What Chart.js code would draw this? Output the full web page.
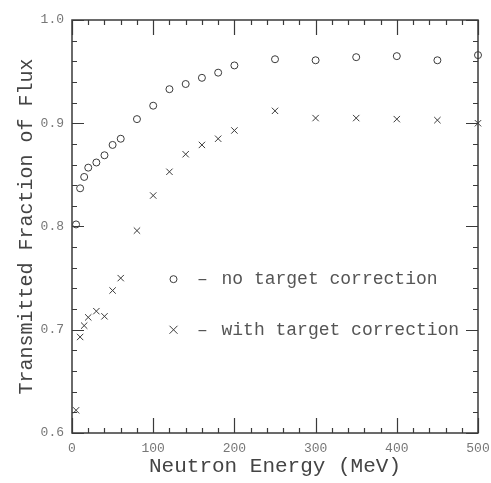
<!DOCTYPE html>
<html lang="en">
<head>
<meta charset="UTF-8">
<title>transmitted_flux</title>
<script src="https://cdn.jsdelivr.net/npm/chart.js"></script>
<style>
  html, body { margin: 0; padding: 0; background: #fff; }
</style>
</head>
<body>
<canvas id="fluxChart" width="491" height="483"></canvas>
<script>
// neutron energy (MeV)
const energies = [5, 10, 15, 20, 30, 40, 50, 60, 80, 100, 120, 140, 160, 180, 200, 250, 300, 350, 400, 450, 500];
// transmitted fraction, no target correction (circles)
const noCorrection = [0.802, 0.837, 0.848, 0.857, 0.862, 0.869, 0.879, 0.885, 0.904, 0.917, 0.933, 0.938, 0.944, 0.949, 0.956, 0.962, 0.961, 0.964, 0.965, 0.961, 0.966];
// transmitted fraction, with target correction (crosses)
const withCorrection = [0.622, 0.693, 0.704, 0.712, 0.718, 0.713, 0.738, 0.750, 0.796, 0.830, 0.853, 0.870, 0.879, 0.885, 0.893, 0.912, 0.905, 0.905, 0.904, 0.903, 0.900];
const xTicks = [0, 100, 200, 300, 400, 500];
const yTicks = [0.6, 0.7, 0.8, 0.9, 1.0];
const legendLabels = ['no target correction', 'with target correction'];

const FONT = "'Liberation Mono', 'DejaVu Sans Mono', monospace";
const INK = '#3a3a3a';

// box frame with inward ticks on all four sides
const frameTicks = {
    id: 'frameTicks',
    beforeDatasetsDraw(chart) {
        const {ctx, chartArea: a, scales: {x, y}} = chart;
        ctx.save();
        ctx.strokeStyle = INK;
        ctx.lineWidth = 1.5;
        ctx.strokeRect(a.left, a.top, a.right - a.left, a.bottom - a.top);
        ctx.lineWidth = 1.2;
        ctx.beginPath();
        for (let v = x.min; v <= x.max + 1e-6; v += 20) {
            const px = Math.round(x.getPixelForValue(v)) + 0.5;
            const len = (Math.round(v) % 100 === 0) ? 15 : 5;
            ctx.moveTo(px, a.bottom); ctx.lineTo(px, a.bottom - len);
            ctx.moveTo(px, a.top); ctx.lineTo(px, a.top + len);
        }
        for (let i = 0; i <= 20; i++) {
            const v = y.min + i * 0.02;
            const py = Math.round(y.getPixelForValue(v)) + 0.5;
            const len = (i % 5 === 0) ? 12 : 5;
            ctx.moveTo(a.left, py); ctx.lineTo(a.left + len, py);
            ctx.moveTo(a.right, py); ctx.lineTo(a.right - len, py);
        }
        ctx.stroke();
        ctx.restore();
    },
    afterDraw(chart) {
        const {ctx, scales: {x, y}} = chart;
        const rows = [
            {style: 'circle', v: 0.749, text: legendLabels[0]},
            {style: 'cross', v: 0.700, text: legendLabels[1]}
        ];
        const mx = x.getPixelForValue(125);
        ctx.save();
        ctx.strokeStyle = INK;
        ctx.fillStyle = '#555';
        ctx.lineWidth = 1;
        ctx.font = '18px ' + FONT;
        ctx.textBaseline = 'middle';
        rows.forEach(r => {
            const my = y.getPixelForValue(r.v);
            ctx.beginPath();
            if (r.style === 'circle') {
                ctx.arc(mx, my, 3.5, 0, Math.PI * 2);
            } else {
                ctx.moveTo(mx - 4, my - 4); ctx.lineTo(mx + 4, my + 4);
                ctx.moveTo(mx - 4, my + 4); ctx.lineTo(mx + 4, my - 4);
            }
            ctx.stroke();
            ctx.textAlign = 'center';
            ctx.fillText('\u2013', mx + 29, my);
            ctx.textAlign = 'left';
            ctx.fillText(r.text, mx + 48, my);
        });
        ctx.restore();
    }
};

const ctx = document.getElementById('fluxChart').getContext('2d');
const fluxChart = new Chart(ctx, {
    type: 'scatter',
    data: {
        datasets: [{
            label: legendLabels[0],
            data: energies.map((e, i) => ({x: e, y: noCorrection[i]})),
            pointStyle: 'circle',
            pointRadius: 3.5,
            borderColor: INK,
            backgroundColor: 'rgba(255,255,255,0)',
            borderWidth: 1,
            clip: false
        }, {
            label: legendLabels[1],
            data: energies.map((e, i) => ({x: e, y: withCorrection[i]})),
            pointStyle: 'crossRot',
            pointRadius: 4.5,
            borderColor: INK,
            borderWidth: 1,
            clip: false
        }]
    },
    options: {
        responsive: false,
        animation: false,
        layout: { padding: { top: 20, right: 13, left: 0, bottom: 0 } },
        plugins: { legend: { display: false }, tooltip: { enabled: false } },
        scales: {
            x: {
                type: 'linear',
                min: 0, max: 500,
                afterBuildTicks: s => { s.ticks = xTicks.map(v => ({value: v})); },
                afterFit: s => { s.height = 50; s.paddingLeft = 0; s.paddingRight = 0; },
                grid: { display: false, drawTicks: false },
                border: { display: false },
                ticks: { padding: 8, color: '#777', font: { family: FONT, size: 13 }, maxRotation: 0 },
                title: {
                    display: true,
                    text: 'Neutron Energy (MeV)',
                    color: '#444',
                    font: { family: FONT, size: 21 },
                    padding: { top: 0, bottom: 4 }
                }
            },
            y: {
                type: 'linear',
                min: 0.6, max: 1.0,
                afterBuildTicks: s => { s.ticks = yTicks.map(v => ({value: v})); },
                afterFit: s => { s.width = 72; s.paddingTop = 0; s.paddingBottom = 0; },
                grid: { display: false, drawTicks: false },
                border: { display: false },
                ticks: {
                    padding: 8, color: '#777', font: { family: FONT, size: 13 },
                    callback: v => v.toFixed(1)
                },
                title: {
                    display: true,
                    text: 'Transmitted Fraction of Flux',
                    color: '#444',
                    font: { family: FONT, size: 20 },
                    padding: { top: 15, bottom: 0 }
                }
            }
        }
    },
    plugins: [frameTicks]
});
</script>
</body>
</html>
